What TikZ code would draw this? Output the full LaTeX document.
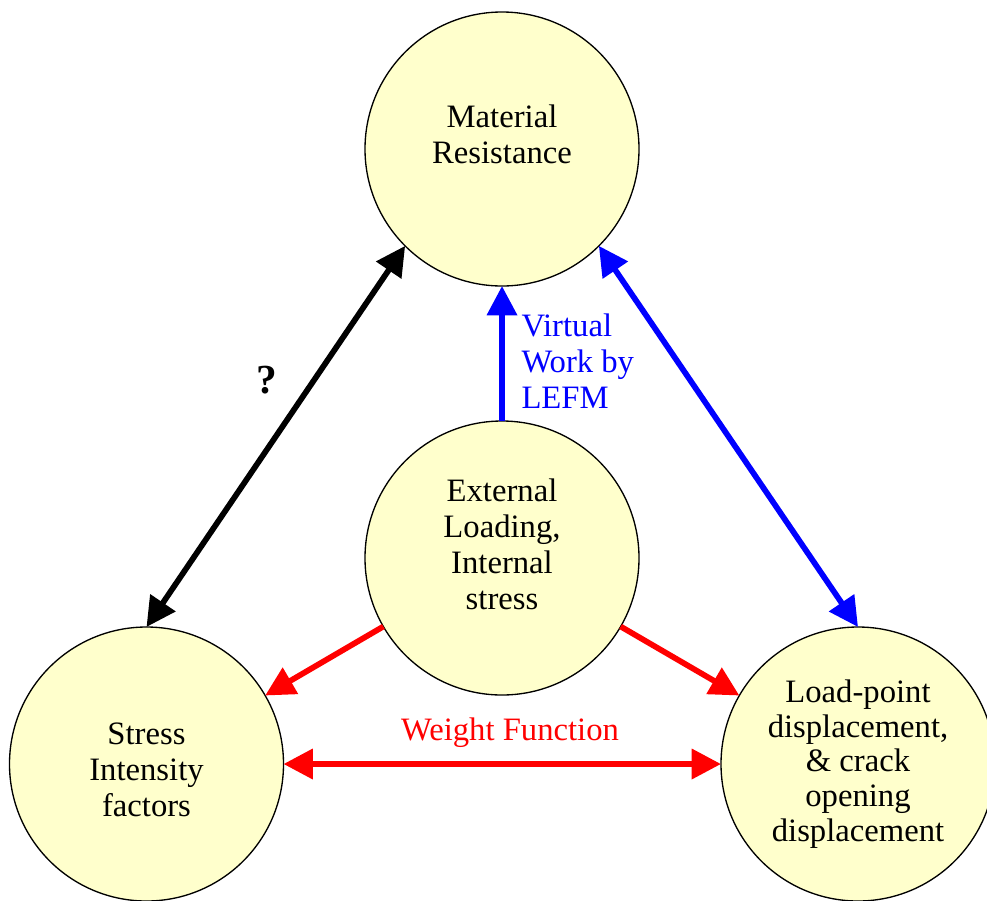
\documentclass[tikz,border=0pt]{standalone}
\usepackage{fontspec}
\setmainfont{Liberation Serif}
\usetikzlibrary{arrows.meta}

\definecolor{bubblefill}{RGB}{255,255,204}
\definecolor{linkblue}{RGB}{0,0,255}
\definecolor{linkred}{RGB}{255,0,0}

\tikzset{every picture/.style={line width=0.75pt}}
\tikzset{
  bubble/.style={circle,draw=black,line width=1pt,fill=bubblefill,minimum size=205.5pt,inner sep=0pt,outer sep=0pt},
  bubtext/.style={align=center,inner sep=0pt,font=\fontsize{24.5}{27}\selectfont},
  link/.style={line width=4.3pt,-{Triangle[length=22pt,width=22pt]}},
  twolink/.style={line width=4.3pt,{Triangle[length=22pt,width=22pt]}-{Triangle[length=22pt,width=22pt]}},
}

\begin{document}
\begin{tikzpicture}[x=0.75pt,y=0.75pt,yscale=-1,xscale=1]
            \useasboundingbox (0,0) rectangle (987,900);

            %Shape: Circle [id:material]
            \node [bubble] (mr) at (502,149) {};
            %Shape: Circle [id:external]
            \node [bubble] (ext) at (502,558) {};
            %Shape: Circle [id:stress]
            \node [bubble] (sif) at (146.5,764) {};
            %Shape: Circle [id:loadpoint]
            \node [bubble] (lpd) at (858,764) {};

            % Text Node
            \node [bubtext] (mrtext) at ([yshift=-11pt]mr.center) {Material\\Resistance};
            % Text Node
            \node [bubtext] (exttext) at ([yshift=-10pt]ext.center) {External\\Loading,\\Internal\\stress};
            % Text Node
            \node [bubtext] (siftext) at ([yshift=4pt]sif.center) {Stress\\Intensity\\factors};
            % Text Node
            \node [bubtext,font=\fontsize{24.5}{26}\selectfont] (lpdtext) at (lpd.center) {Load-point\\displacement,\\\& crack\\opening\\displacement};

            %Straight Lines [id:question]
            \draw [twolink,black] (mr.225) -- (sif.north) ;
            %Straight Lines [id:virtualwork]
            \draw [link,linkblue] (ext.north) -- (mr.south) ;
            %Straight Lines [id:lefm]
            \draw [twolink,linkblue] (mr.-45) -- (lpd.north) ;
            %Straight Lines [id:toleft]
            \draw [link,linkred] (ext.210) -- (sif.30) ;
            %Straight Lines [id:toright]
            \draw [link,linkred] (ext.-30) -- (lpd.150) ;
            %Straight Lines [id:weight]
            \draw [twolink,linkred] (sif.east) -- (lpd.west) ;

            % Text Node
            \node [font=\fontsize{31}{34}\selectfont\bfseries] (qmark) at (267,380) {?};
            % Text Node
            \node [anchor=west,align=left,inner sep=0pt,text=linkblue,font=\fontsize{24.5}{27}\selectfont] (vwtext) at (521,361) {Virtual\\Work by\\LEFM};
            % Text Node
            \node [inner sep=0pt,text=linkred,font=\fontsize{24.5}{27}\selectfont] (wftext) at (510,733) {Weight Function};

\end{tikzpicture}
\end{document}
